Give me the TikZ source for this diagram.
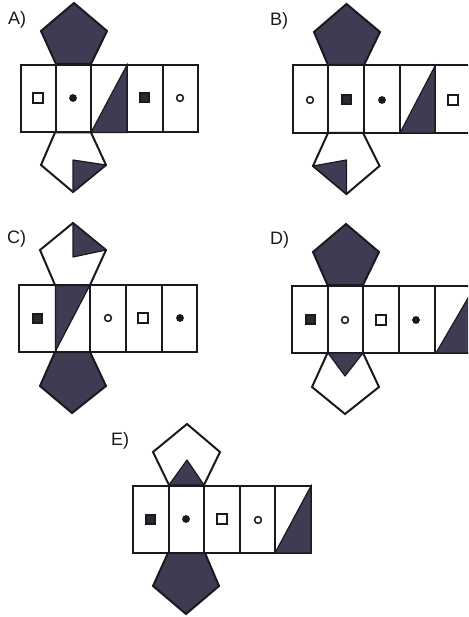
\documentclass[tikz,border=0pt]{standalone}
\usepackage{fontspec}
\setmainfont{Liberation Sans}
\definecolor{ink}{HTML}{1A1A1E}
\definecolor{facecol}{HTML}{3E3B52}
\definecolor{markcol}{HTML}{2A2A32}
\tikzset{
  outline/.style={draw=ink,line width=2pt,line join=miter},
  darkface/.style={outline,fill=facecol},
  lightface/.style={outline,fill=white},
  inner/.style={fill=facecol,draw=ink,line width=1.2pt,line join=round},
  wedge/.style={fill=facecol,draw=ink,line width=1.2pt},
  caption/.style={font=\fontsize{18}{18}\selectfont,text=ink,inner sep=0pt},
  hollowsq/.style={draw=ink,line width=1.5pt,fill=white},
  solidsq/.style={draw=ink,line width=2pt,fill=markcol},
  hollowdot/.style={draw=ink,line width=1.5pt,fill=white},
  soliddot/.style={fill=ink}
}
% strip: left, top, bottom, then cell edges
\newcommand{\strip}[8]{%
  \draw[outline,fill=white] (#1,#2) rectangle (#8,#3);
  \foreach \e in {#4,#5,#6,#7} \draw[outline] (\e,#2) -- (\e,#3);
}
\newcommand{\hsq}[2]{\draw[hollowsq] (#1-5,#2-5) rectangle (#1+5,#2+5);}
\newcommand{\ssq}[2]{\draw[solidsq] (#1-4.5,#2-4.5) rectangle (#1+4.5,#2+4.5);}
\newcommand{\hdot}[2]{\draw[hollowdot] (#1,#2) circle (3.4);}
\newcommand{\sdot}[2]{\fill[soliddot] (#1,#2) circle (3.9);}
\begin{document}
\begin{tikzpicture}[x=1pt,y=-1pt]
\useasboundingbox (0,0) rectangle (468,617);
\fill[white] (0,0) rectangle (468,617);
\clip (0,0) rectangle (468,617);

% A
\node[caption,anchor=west] (la) at (8,19.5) {A)};
\strip{20.5}{65}{132.5}{56}{91}{127}{162.5}{198}
\draw[wedge] (91,132.5) -- (127,65) -- (127,132.5) -- cycle;
\draw[darkface] (56,64) -- (41,31) -- (74,3) -- (107,31) -- (91,64) -- cycle;
\draw[lightface] (55,132.5) -- (41,165) -- (73,192) -- (106,165) -- (91,132.5) -- cycle;
\draw[inner] (73,160) -- (106,165) -- (73,192) -- cycle;
\hsq{38}{98}\sdot{73}{98}\ssq{144}{98}\hdot{180}{98}

% B
\node[caption,anchor=west] (lb) at (270,21) {B)};
\strip{292.5}{65.5}{133}{328}{364}{399.5}{435}{475}
\draw[wedge] (400,133) -- (435,66) -- (435,133) -- cycle;
\draw[darkface] (328,65) -- (314,32) -- (346.5,4) -- (380,32) -- (364,65) -- cycle;
\draw[lightface] (328,133) -- (313,166) -- (346.5,194) -- (379.5,166) -- (363,133) -- cycle;
\draw[inner] (313,166) -- (346.5,160) -- (346.5,194) -- cycle;
\hdot{310}{100}\ssq{346}{99.5}\sdot{382}{100}\hsq{453}{100}

% C
\node[caption,anchor=west] (lc) at (7,239) {C)};
\strip{19}{285}{351.5}{55.5}{90}{126}{161.5}{197}
\draw[wedge] (55.5,285) -- (90,285) -- (55.5,351) -- cycle;
\draw[lightface] (55,285) -- (40,250) -- (73,223) -- (106,250) -- (90,285) -- cycle;
\draw[inner] (73,223) -- (106,250) -- (73,257) -- cycle;
\draw[darkface] (55,352) -- (40,386) -- (72,413) -- (106,386) -- (90,352) -- cycle;
\ssq{37}{318}\hdot{108}{318}\hsq{143}{318}\sdot{180}{318}

% D
\node[caption,anchor=west] (ld) at (270,240) {D)};
\strip{292}{286}{353}{327.5}{363}{399}{435}{475}
\draw[wedge] (436,353) -- (475,286) -- (475,353) -- cycle;
\draw[darkface] (327.5,285) -- (313,252) -- (346,224) -- (379,252) -- (363,285) -- cycle;
\draw[lightface] (327.5,353) -- (312,387) -- (345,414) -- (379,387) -- (363,353) -- cycle;
\draw[inner] (328,353) -- (363,353) -- (345,376) -- cycle;
\ssq{310}{319}\hdot{345}{320}\hsq{381}{320}\sdot{416}{320}

% E
\node[caption,anchor=west] (le) at (111,441) {E)};
\strip{132.5}{486}{553}{168.5}{204}{240}{275}{311}
\draw[wedge] (275,553) -- (311,486) -- (311,553) -- cycle;
\draw[lightface] (169,485) -- (153,452) -- (187,424) -- (220,452) -- (204,485) -- cycle;
\draw[inner] (169,485) -- (204,485) -- (187,460) -- cycle;
\draw[darkface] (168,553) -- (153,586) -- (186,614) -- (219,586) -- (205,553) -- cycle;
\ssq{150}{519}\sdot{186}{519}\hsq{222}{519}\hdot{258}{520}
\end{tikzpicture}
\end{document}
